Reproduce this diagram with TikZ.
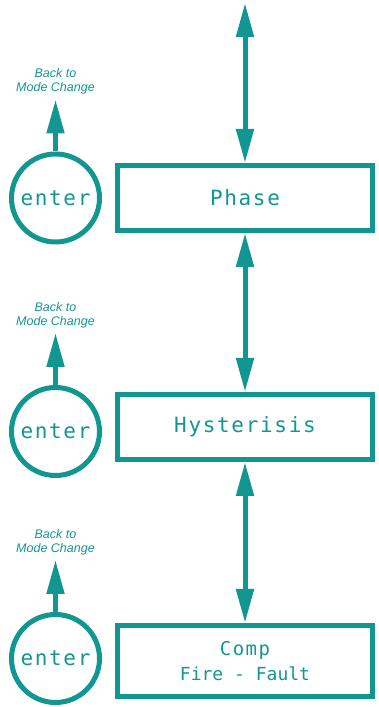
\documentclass[tikz,border=0pt]{standalone}
\usepackage{fontspec}
\usetikzlibrary{arrows.meta,positioning}
\setsansfont{Liberation Sans}
\newfontfamily\dispfont[LetterSpace=8]{DejaVu Sans Mono}
\newfontfamily\dispfontplain{DejaVu Sans Mono}
\definecolor{panelteal}{RGB}{18,150,145}
\begin{document}
\begin{tikzpicture}[x=1pt,y=1pt,
		modebox/.style={draw=panelteal, line width=5pt, minimum width=255pt, minimum height=65pt, inner sep=0pt, align=center, text=panelteal, font=\dispfont\fontsize{21}{25}\selectfont},
		enterkey/.style={circle, draw=panelteal, line width=5pt, minimum size=88pt, inner sep=0pt, text=panelteal, font=\dispfont\fontsize{21}{22}\selectfont},
		link/.style={draw=panelteal, line width=5pt, {Triangle[length=34pt,width=17pt]}-{Triangle[length=34pt,width=17pt]}},
		backarrow/.style={draw=panelteal, line width=5pt, -{Triangle[length=34pt,width=17pt]}},
		backlabel/.style={inner sep=0pt, align=center, text=panelteal, font=\sffamily\itshape\fontsize{12.5}{14}\selectfont}]
		\useasboundingbox (0,0) rectangle (378,707);
		%\draw[red] (0,0) rectangle (378,707);
		\node[modebox] (phase) at (245,509) {Phase};
		\node[modebox] (hyst) at (245,280) {Hysterisis};
		\node[modebox, minimum height=71pt, font=\dispfont\fontsize{19}{25}\selectfont] (comp) at (245,46) {Comp\\{\dispfontplain\fontsize{18}{25}\selectfont Fire - Fault}};
		\node[enterkey] (enter1) at (55.5,509) {enter};
		\node[enterkey] (enter2) at (55.5,275.5) {enter};
		\node[enterkey] (enter3) at (55.5,48.5) {enter};
		\coordinate (top) at (245,704);
		\draw[link] (top) -- (phase);
		\draw[link] (phase) -- (hyst);
		\draw[link] (hyst) -- (comp);
		\coordinate[above=52pt of enter1] (tip1);
		\coordinate[above=52pt of enter2] (tip2);
		\coordinate[above=52pt of enter3] (tip3);
		\draw[backarrow] (enter1) -- (tip1);
		\draw[backarrow] (enter2) -- (tip2);
		\draw[backarrow] (enter3) -- (tip3);
		\node[backlabel, above=5pt of tip1] (back1) {Back to\\Mode Change};
		\node[backlabel, above=5pt of tip2] (back2) {Back to\\Mode Change};
		\node[backlabel, above=5pt of tip3] (back3) {Back to\\Mode Change};
	\end{tikzpicture}
\end{document}
